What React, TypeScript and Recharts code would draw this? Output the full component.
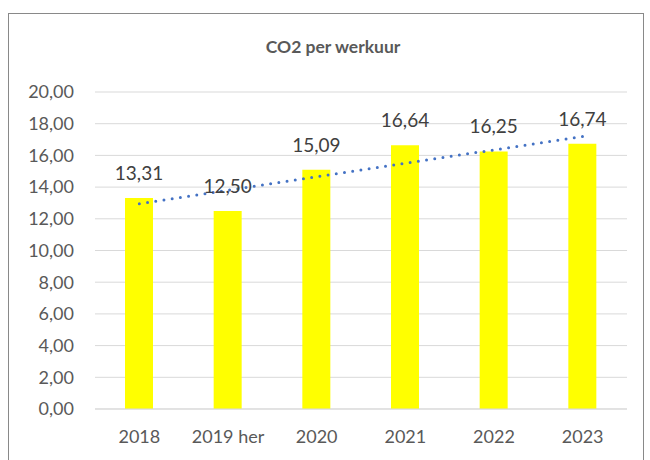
import React from 'react';
import { BarChart, Bar, XAxis, YAxis, CartesianGrid, LabelList, ReferenceLine } from 'recharts';

const categories = ['2018', '2019 her', '2020', '2021', '2022', '2023'];
const values = [13.31, 12.5, 15.09, 16.64, 16.25, 16.74];
const yTicks = [0, 2, 4, 6, 8, 10, 12, 14, 16, 18, 20];
const trendStart = 12.95;
const trendEnd = 17.2;

const data = categories.map((c, i) => ({ name: c, value: values[i] }));
const fmt = (v: number) => v.toFixed(2).replace('.', ',');
const FONT = 'Lato, "Open Sans", sans-serif';

export default function App() {
  return (
    <div style={{ position: 'absolute', left: 0, top: 0, width: 650, height: 460, background: '#fff', fontFamily: FONT }}>
      <div
        style={{
          position: 'absolute',
          left: 8,
          top: 13,
          width: 634,
          height: 460,
          border: '1px solid #898989',
        }}
      />
      <div
        style={{
          position: 'absolute',
          left: 233,
          width: 200,
          top: 35,
          textAlign: 'center',
          fontSize: 17.5,
          fontWeight: 'bold',
          color: '#595959',
          lineHeight: '24px',
        }}
      >
        CO2 per werkuur
      </div>
      <div style={{ position: 'absolute', left: 0, top: 0 }}>
        <BarChart
          width={650}
          height={460}
          data={data}
          margin={{ top: 92, right: 23, bottom: 0, left: 0 }}
        >
          <CartesianGrid vertical={false} stroke="#d9d9d9" strokeWidth={1} />
          <XAxis
            dataKey="name"
            height={51}
            axisLine={{ stroke: '#d9d9d9' }}
            tickLine={false}
            tickSize={0}
            tickMargin={21}
            tick={{ fill: '#595959', fontSize: 18, fontFamily: FONT }}
            interval={0}
          />
          <YAxis
            width={95}
            domain={[0, 20]}
            ticks={yTicks}
            tickFormatter={fmt}
            axisLine={false}
            tickLine={false}
            tickSize={0}
            tickMargin={21}
            tick={{ fill: '#595959', fontSize: 18, fontFamily: FONT }}
          />
          <Bar dataKey="value" fill="#FFFF00" barSize={28} isAnimationActive={false}>
            <LabelList
              dataKey="value"
              position="top"
              offset={18}
              formatter={(v: any) => fmt(Number(v))}
              style={{ fill: '#404040', fontSize: 19, fontFamily: FONT }}
            />
          </Bar>
          <ReferenceLine
            segment={[
              { x: categories[0], y: trendStart },
              { x: categories[categories.length - 1], y: trendEnd },
            ]}
            stroke="#4472C4"
            strokeWidth={3}
            strokeDasharray="0 8.3"
            strokeLinecap="round"
          />
        </BarChart>
      </div>
    </div>
  );
}
